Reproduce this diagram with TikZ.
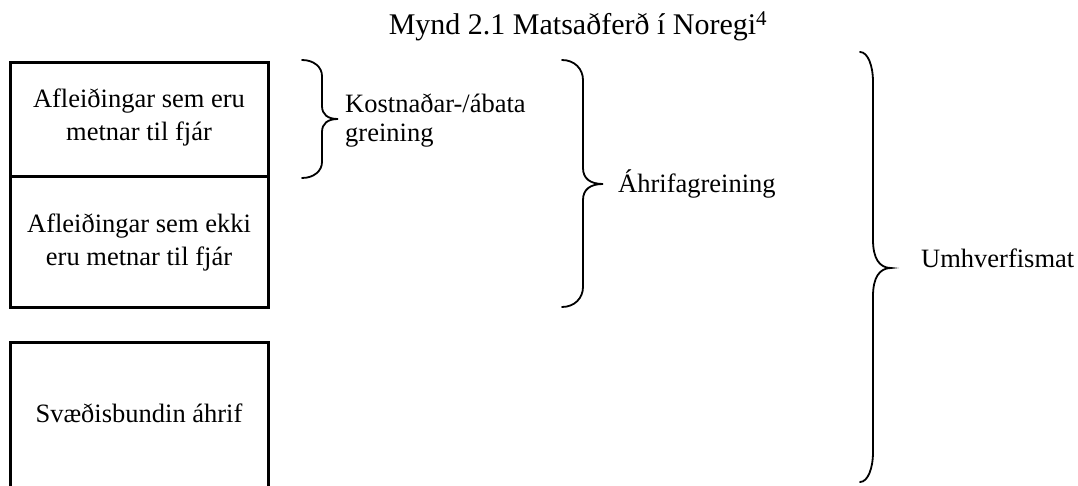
\documentclass[tikz,border=0pt]{standalone}
\usepackage{fontspec}
\setmainfont{Liberation Serif}
\newcommand\curlybrace[8]{% x0 xs xt y1 y2 ym r rm
  \draw[bracestyle] (#1,#4) .. controls ({#1+0.6*(#2-#1)},#4) and (#2,{#4+0.45*#7}) .. (#2,{#4+#7})
    -- (#2,{#6-#8}) .. controls (#2,{#6-0.35*#8}) and ({#2+0.35*(#3-#2)},#6) .. (#3,#6)
    .. controls ({#2+0.35*(#3-#2)},#6) and (#2,{#6+0.35*#8}) .. (#2,{#6+#8})
    -- (#2,{#5-#7}) .. controls (#2,{#5-0.45*#7}) and ({#1+0.6*(#2-#1)},#5) .. (#1,#5);}
\begin{document}
\begin{tikzpicture}[x=1pt,y=-1pt,
  box/.style={draw=black, line width=3pt, minimum width=258pt, inner sep=0pt, outer sep=0pt},
  boxtext/.style={align=center, inner sep=0pt, font=\fontsize{26.5}{33}\selectfont},
  label/.style={inner sep=0pt, align=left, font=\fontsize{26.5}{29}\selectfont},
  titlestyle/.style={inner sep=0pt, font=\fontsize{30}{36}\selectfont},
  bracestyle/.style={draw=black, line width=1.8pt, line cap=round}]
\path[use as bounding box] (0,0) rectangle (1078,486);
\clip (0,0) rectangle (1078,486);
\fill[white] (0,0) rectangle (1078,486);

\node[titlestyle, anchor=base] (title) at (578,35) {Mynd 2.1 Matsaðferð í Noregi\textsuperscript{4}};

\node[box, minimum height=114pt] (box1) at (139,120) {};
\node[box, minimum height=130pt] (box2) at (139,242) {};
\node[box, minimum height=200pt] (box3) at (139,442) {};

\node[boxtext] (t1) at ([yshift=3pt]box1.center) {Afleiðingar sem eru\\metnar til fjár};
\node[boxtext] (t2) at (box2.center) {Afleiðingar sem ekki\\eru metnar til fjár};
\node[boxtext, anchor=base] (t3) at (139,422) {Svæðisbundin áhrif};

\curlybrace{302}{322}{338}{60}{178}{119}{16}{13}
\curlybrace{562}{583}{603}{60}{307}{184}{20}{16}
\curlybrace{860}{873}{891}{52}{482}{268}{30}{28}

\node[label, anchor=north west] (kba) at (345,94) {Kostnaðar-/ábata\\greining};
\node[label, anchor=base west] (ahr) at (618,193) {Áhrifagreining};
\node[label, anchor=base west] (umh) at (921,268) {Umhverfismat};
\end{tikzpicture}
\end{document}
